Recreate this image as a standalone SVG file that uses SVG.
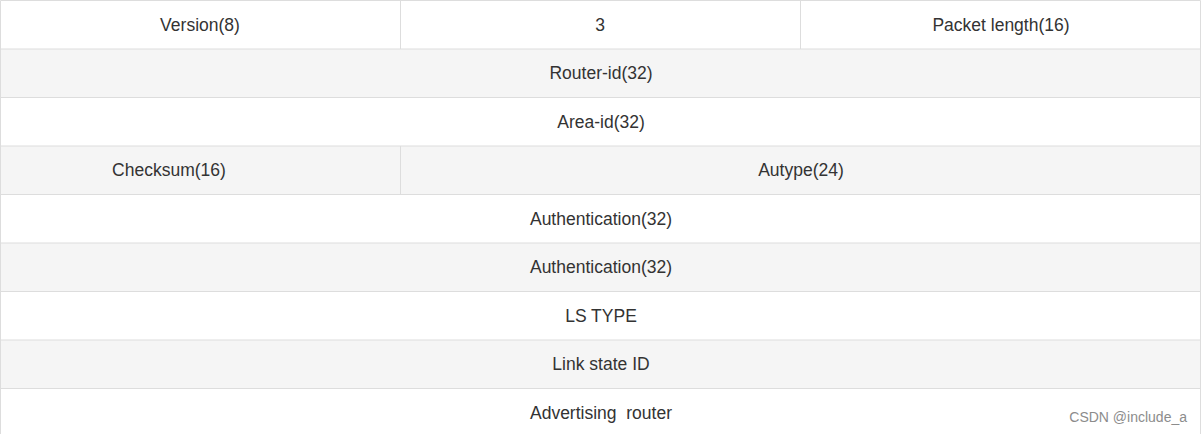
<svg xmlns="http://www.w3.org/2000/svg" width="1202" height="434" viewBox="0 0 1202 434">
<style>
.w{fill:#ffffff}
.g{fill:#f5f5f5}
.b{stroke:#dddddd;stroke-width:1;fill:none}
.t{font-family:"Liberation Sans",Arial,sans-serif;font-size:17.5px;fill:#333333;text-anchor:middle}
.wm{font-family:"Liberation Sans",Arial,sans-serif;font-size:14px;fill:#8c8c8c;text-anchor:end}
</style>
<rect x="0" y="0" width="1202" height="434" fill="#ffffff"/>
<g id="row-header">
<rect class="w" x="0.5" y="0.5" width="1200.5" height="48.5"/>
<text class="t" x="200" y="30.5">Version(8)</text>
<text class="t" x="600" y="30.5">3</text>
<text class="t" x="1001" y="30.5">Packet length(16)</text>
</g>
<g id="row-router-id">
<rect class="g" x="0.5" y="49" width="1200.5" height="48.5"/>
<text class="t" x="601" y="79">Router-id(32)</text>
</g>
<g id="row-area-id">
<rect class="w" x="0.5" y="97.5" width="1200.5" height="48.5"/>
<text class="t" x="601" y="127.5">Area-id(32)</text>
</g>
<g id="row-checksum">
<rect class="g" x="0.5" y="146" width="1200.5" height="48.5"/>
<text class="t" x="169" y="176">Checksum(16)</text>
<text class="t" x="801" y="176">Autype(24)</text>
</g>
<g id="row-auth1">
<rect class="w" x="0.5" y="194.5" width="1200.5" height="48.5"/>
<text class="t" x="601" y="224.5">Authentication(32)</text>
</g>
<g id="row-auth2">
<rect class="g" x="0.5" y="243" width="1200.5" height="48.5"/>
<text class="t" x="601" y="273">Authentication(32)</text>
</g>
<g id="row-ls-type">
<rect class="w" x="0.5" y="291.5" width="1200.5" height="48.5"/>
<text class="t" x="601" y="321.5">LS TYPE</text>
</g>
<g id="row-link-state-id">
<rect class="g" x="0.5" y="340" width="1200.5" height="48.5"/>
<text class="t" x="601" y="370">Link state ID</text>
</g>
<g id="row-adv-router">
<rect class="w" x="0.5" y="388.5" width="1200.5" height="46"/>
<text class="t" x="601" y="418.5" xml:space="preserve">Advertising  router</text>
</g>
<g id="connectors">
<path class="b" d="M0.5,0.5H1200.5V434M0.5,0.5V434M0.5,49H1200.5M0.5,97.5H1200.5M0.5,146H1200.5M0.5,194.5H1200.5M0.5,243H1200.5M0.5,291.5H1200.5M0.5,340H1200.5M0.5,388.5H1200.5M400.5,0.5V49M800.5,0.5V49M400.5,146V194.5"/>
</g>
<text class="wm" x="1187" y="422">CSDN @include_a</text>
</svg>
